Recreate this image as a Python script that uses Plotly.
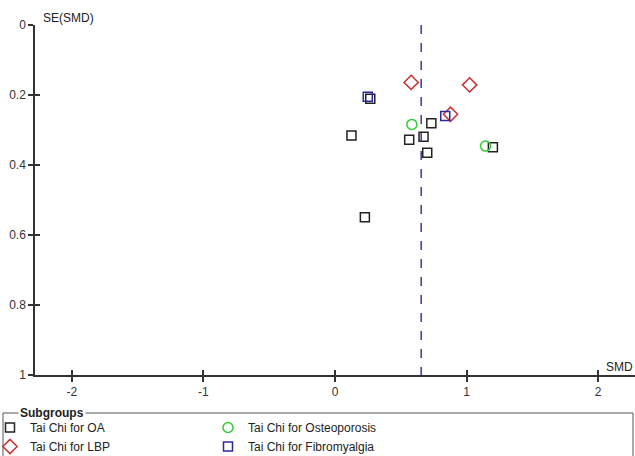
import plotly.graph_objects as go

# ---- data (SMD, SE(SMD)) per subgroup ----
oa_smd = [0.268, 0.732, 0.125, 0.564, 0.673, 0.701, 1.200, 0.227]
oa_se = [0.211, 0.281, 0.316, 0.328, 0.319, 0.365, 0.349, 0.549]
lbp_smd = [0.579, 1.023, 0.878]
lbp_se = [0.164, 0.171, 0.255]
osteo_smd = [0.584, 1.144]
osteo_se = [0.284, 0.346]
fibro_smd = [0.249, 0.838]
fibro_se = [0.205, 0.260]
pooled_smd = 0.655

x_ticks = [-2, -1, 0, 1, 2]
y_ticks = [0, 0.2, 0.4, 0.6, 0.8, 1]

FONT = "Liberation Sans, Arial, sans-serif"
AX = "#333333"

fig = go.Figure()

def add(name, xs, ys, symbol, color, size, legend):
    fig.add_trace(go.Scatter(
        x=xs, y=ys, mode="markers", name=name, legend=legend,
        marker=dict(symbol=symbol, size=size, color=color,
                    line=dict(color=color, width=1.5)),
    ))

add("Tai Chi for OA", oa_smd, oa_se, "square-open", "#222222", 9, "legend")
add("Tai Chi for LBP", lbp_smd, lbp_se, "diamond-open", "#c83232", 11, "legend")
add("Tai Chi for Osteoporosis", osteo_smd, osteo_se, "circle-open", "#33cc33", 10, "legend2")
add("Tai Chi for Fibromyalgia", fibro_smd, fibro_se, "square-open", "#2a2a9a", 9, "legend2")

# invisible trace to anchor the overlay axes (ticks on other side)
fig.add_trace(go.Scatter(x=[0], y=[0], xaxis="x2", yaxis="y2", mode="markers",
                         marker=dict(opacity=0), showlegend=False, hoverinfo="skip"))

# pooled estimate line
fig.add_shape(type="line", xref="x", yref="y", x0=pooled_smd, x1=pooled_smd, y0=0, y1=1,
              line=dict(color="#3a3a9a", width=1.5, dash="dash"))

xr = [-2.28, 2.28]
yr = [1, 0]
common_font = dict(family=FONT, size=12, color=AX)

fig.update_layout(
    width=635, height=456,
    margin=dict(l=35, r=0, t=25, b=81, autoexpand=False),
    paper_bgcolor="white", plot_bgcolor="white",
    font=common_font,
    xaxis=dict(range=xr, tickvals=x_ticks, ticktext=[str(v) for v in x_ticks],
               showgrid=False, zeroline=False, showline=True, linecolor=AX, linewidth=1.5,
               ticks="outside", ticklen=5, tickcolor=AX, tickwidth=1.5, tickfont=common_font,
               anchor="y"),
    yaxis=dict(range=yr, tickvals=y_ticks, ticktext=["0", "0.2", "0.4", "0.6", "0.8", "1"],
               showgrid=False, zeroline=False, showline=True, linecolor=AX, linewidth=1.5,
               ticks="outside", ticklen=5, tickcolor=AX, tickwidth=1.5, tickfont=common_font,
               anchor="x"),
    xaxis2=dict(range=xr, overlaying="x", anchor="y", side="bottom", tickvals=x_ticks,
                showticklabels=False, ticks="inside", ticklen=5, tickcolor=AX, tickwidth=1.5,
                showgrid=False, zeroline=False, showline=False),
    yaxis2=dict(range=yr, overlaying="y", anchor="x", side="left", tickvals=y_ticks,
                showticklabels=False, ticks="inside", ticklen=5, tickcolor=AX, tickwidth=1.5,
                showgrid=False, zeroline=False, showline=False),
    legend=dict(x=(-10 - 35) / 600, y=(375 - 413) / 350, xanchor="left", yanchor="top",
                bgcolor="rgba(0,0,0,0)", font=dict(family=FONT, size=12, color="#222"),
                tracegroupgap=0, itemwidth=30),
    legend2=dict(x=(208 - 35) / 600, y=(375 - 413) / 350, xanchor="left", yanchor="top",
                 bgcolor="rgba(0,0,0,0)", font=dict(family=FONT, size=12, color="#222"),
                 tracegroupgap=0, itemwidth=30),
    showlegend=True,
)

# legend group box with title on the border
fig.add_shape(type="rect", xref="paper", yref="paper",
              x0=(3 - 35) / 600, x1=(633 - 35) / 600,
              y0=(375 - 470) / 350, y1=(375 - 413) / 350,
              line=dict(color="#555555", width=1), layer="below")
fig.add_annotation(xref="paper", yref="paper", x=(18 - 35) / 600, y=(375 - 413) / 350,
                   xanchor="left", yanchor="middle", showarrow=False,
                   text="<b>Subgroups</b>", bgcolor="white", borderpad=1,
                   font=dict(family=FONT, size=12, color="#222"))

# axis titles
fig.add_annotation(xref="paper", yref="paper", x=(41 - 35) / 600, y=(375 - 18) / 350,
                   xanchor="left", yanchor="middle", showarrow=False, text="SE(SMD)",
                   font=dict(family=FONT, size=12, color="#222"))
fig.add_annotation(xref="paper", yref="paper", x=1, y=(375 - 367) / 350,
                   xanchor="right", yanchor="middle", showarrow=False, text="SMD",
                   font=dict(family=FONT, size=12, color="#222"))

fig.write_html("out.html")
